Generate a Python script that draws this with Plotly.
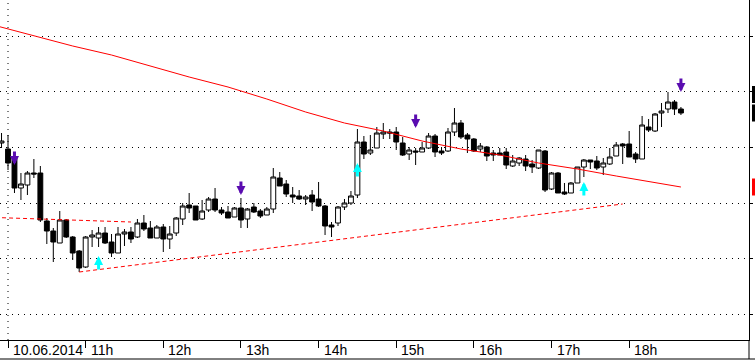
import plotly.graph_objects as go
import pandas as pd

# 5-minute candles, 10.06.2014 09:55 .. 18:40
times = list(pd.date_range("2014-06-10 09:55", periods=106, freq="5min"))

open_ = [1.35857, 1.35851, 1.35843, 1.35812, 1.35815, 1.35827, 1.35827, 1.35779, 1.35769, 1.35757,
         1.35780, 1.35763, 1.35749, 1.35733, 1.35763, 1.35762, 1.35767, 1.35758, 1.35747, 1.35766,
         1.35768, 1.35763, 1.35777, 1.35772, 1.35762, 1.35773, 1.35761, 1.35767, 1.35781, 1.35795,
         1.35794, 1.35781, 1.35790, 1.35801, 1.35790, 1.35788, 1.35783, 1.35792, 1.35781, 1.35793,
         1.35789, 1.35785, 1.35791, 1.35822, 1.35816, 1.35805, 1.35804, 1.35801, 1.35805, 1.35801,
         1.35794, 1.35775, 1.35777, 1.35793, 1.35797, 1.35805, 1.35858, 1.35847, 1.35852, 1.35866,
         1.35868, 1.35868, 1.35857, 1.35846, 1.35849, 1.35848, 1.35852, 1.35864, 1.35849, 1.35849,
         1.35868, 1.35877, 1.35865, 1.35861, 1.35851, 1.35853, 1.35847, 1.35847, 1.35848, 1.35834,
         1.35837, 1.35841, 1.35836, 1.35832, 1.35849, 1.35811, 1.35827, 1.35808, 1.35807, 1.35817,
         1.35833, 1.35840, 1.35839, 1.35833, 1.35836, 1.35844, 1.35856, 1.35856, 1.35846, 1.35841,
         1.35873, 1.35869, 1.35887, 1.35891, 1.35898, 1.35891]
high = [1.35867, 1.35865, 1.35848, 1.35827, 1.35829, 1.35841, 1.35834, 1.35782, 1.35772, 1.35789,
        1.35781, 1.35764, 1.35750, 1.35764, 1.35770, 1.35773, 1.35773, 1.35766, 1.35773, 1.35771,
        1.35773, 1.35781, 1.35785, 1.35779, 1.35775, 1.35776, 1.35774, 1.35783, 1.35797, 1.35807,
        1.35794, 1.35800, 1.35803, 1.35812, 1.35793, 1.35794, 1.35793, 1.35802, 1.35792, 1.35797,
        1.35791, 1.35793, 1.35832, 1.35828, 1.35820, 1.35813, 1.35810, 1.35805, 1.35810, 1.35818,
        1.35795, 1.35778, 1.35794, 1.35801, 1.35809, 1.35871, 1.35864, 1.35865, 1.35873, 1.35877,
        1.35871, 1.35873, 1.35863, 1.35853, 1.35852, 1.35858, 1.35867, 1.35866, 1.35853, 1.35872,
        1.35892, 1.35880, 1.35867, 1.35862, 1.35857, 1.35854, 1.35850, 1.35852, 1.35852, 1.35845,
        1.35843, 1.35845, 1.35840, 1.35850, 1.35850, 1.35828, 1.35828, 1.35817, 1.35818, 1.35833,
        1.35841, 1.35840, 1.35844, 1.35842, 1.35852, 1.35858, 1.35857, 1.35869, 1.35848, 1.35884,
        1.35881, 1.35887, 1.35897, 1.35908, 1.35900, 1.35893]
low = [1.35852, 1.35830, 1.35807, 1.35800, 1.35805, 1.35822, 1.35778, 1.35756, 1.35738, 1.35757,
       1.35762, 1.35740, 1.35728, 1.35732, 1.35753, 1.35753, 1.35756, 1.35743, 1.35747, 1.35754,
       1.35757, 1.35762, 1.35769, 1.35762, 1.35762, 1.35748, 1.35751, 1.35764, 1.35775, 1.35787,
       1.35780, 1.35780, 1.35788, 1.35788, 1.35785, 1.35782, 1.35783, 1.35772, 1.35772, 1.35787,
       1.35782, 1.35785, 1.35787, 1.35814, 1.35803, 1.35797, 1.35800, 1.35795, 1.35789, 1.35793,
       1.35765, 1.35763, 1.35774, 1.35790, 1.35795, 1.35802, 1.35841, 1.35845, 1.35852, 1.35861,
       1.35861, 1.35850, 1.35844, 1.35840, 1.35835, 1.35848, 1.35851, 1.35843, 1.35845, 1.35848,
       1.35864, 1.35861, 1.35847, 1.35848, 1.35848, 1.35839, 1.35839, 1.35845, 1.35831, 1.35833,
       1.35834, 1.35829, 1.35827, 1.35831, 1.35808, 1.35810, 1.35807, 1.35805, 1.35807, 1.35817,
       1.35823, 1.35831, 1.35830, 1.35825, 1.35835, 1.35844, 1.35836, 1.35843, 1.35837, 1.35841,
       1.35868, 1.35868, 1.35873, 1.35887, 1.35885, 1.35885]
close = [1.35859, 1.35837, 1.35812, 1.35816, 1.35827, 1.35826, 1.35780, 1.35769, 1.35758, 1.35780,
         1.35763, 1.35747, 1.35732, 1.35763, 1.35765, 1.35767, 1.35757, 1.35747, 1.35766, 1.35768,
         1.35761, 1.35777, 1.35771, 1.35762, 1.35773, 1.35761, 1.35766, 1.35782, 1.35794, 1.35792,
         1.35780, 1.35789, 1.35801, 1.35790, 1.35787, 1.35782, 1.35792, 1.35780, 1.35791, 1.35788,
         1.35784, 1.35791, 1.35823, 1.35814, 1.35806, 1.35803, 1.35801, 1.35803, 1.35798, 1.35794,
         1.35774, 1.35773, 1.35793, 1.35797, 1.35804, 1.35858, 1.35846, 1.35850, 1.35867, 1.35868,
         1.35867, 1.35858, 1.35845, 1.35850, 1.35848, 1.35852, 1.35864, 1.35848, 1.35847, 1.35868,
         1.35877, 1.35863, 1.35861, 1.35849, 1.35854, 1.35844, 1.35845, 1.35845, 1.35835, 1.35839,
         1.35842, 1.35834, 1.35833, 1.35850, 1.35810, 1.35827, 1.35807, 1.35806, 1.35817, 1.35833,
         1.35840, 1.35838, 1.35832, 1.35837, 1.35843, 1.35855, 1.35854, 1.35843, 1.35841, 1.35875,
         1.35870, 1.35886, 1.35889, 1.35898, 1.35891, 1.35887]

# moving average (solid red)
ma_times = ["2014-06-10 09:50", "2014-06-10 10:20", "2014-06-10 10:50", "2014-06-10 11:20",
            "2014-06-10 11:50", "2014-06-10 12:20", "2014-06-10 12:50", "2014-06-10 13:20",
            "2014-06-10 13:50", "2014-06-10 14:20", "2014-06-10 14:50", "2014-06-10 15:20",
            "2014-06-10 15:50", "2014-06-10 16:20", "2014-06-10 16:50", "2014-06-10 17:20",
            "2014-06-10 17:50", "2014-06-10 18:20", "2014-06-10 18:40"]
ma_values = [1.359745, 1.35964, 1.35954, 1.35945, 1.35934, 1.35923, 1.35913, 1.35901,
             1.35888, 1.35877, 1.35869, 1.35859, 1.35851, 1.35845, 1.35837, 1.35831,
             1.35824, 1.35817, 1.35813]

# dashed trend lines
resist_times = ["2014-06-10 09:50", "2014-06-10 11:35"]
resist_values = [1.357825, 1.35778]
support_times = ["2014-06-10 10:55", "2014-06-10 17:55"]
support_values = [1.35728, 1.35796]

# signal arrows (tip price)
arrow_times = ["2014-06-10 10:05", "2014-06-10 11:10", "2014-06-10 13:00", "2014-06-10 14:30",
               "2014-06-10 15:15", "2014-06-10 17:25", "2014-06-10 18:40"]
arrow_prices = [1.35835, 1.35744, 1.35805, 1.35837, 1.35872, 1.35818, 1.35908]
arrow_dirs = ["down", "up", "down", "up", "down", "up", "down"]

# axis
tick_times = ["2014-06-10 10:00", "2014-06-10 11:00", "2014-06-10 12:00", "2014-06-10 13:00",
              "2014-06-10 14:00", "2014-06-10 15:00", "2014-06-10 16:00", "2014-06-10 17:00",
              "2014-06-10 18:00"]
tick_labels = ["10.06.2014", "11h", "12h", "13h", "14h", "15h", "16h", "17h", "18h"]
grid_levels = [1.35964, 1.35909, 1.35853, 1.35797, 1.35742, 1.35686]

# right-side price tags (cut off)
tag_prices = [1.359055, 1.35887, 1.35813]
tag_colors = ["black", "black", "#ff0000"]

FONT = "Liberation Sans, Arial, sans-serif"
PURPLE = "#5A0CB0"
CYAN = "#00FFFF"

fig = go.Figure()

fig.add_trace(go.Scatter(x=resist_times, y=resist_values, mode="lines",
                         line=dict(color="#ff0000", width=1, dash="4px,3px"), hoverinfo="skip"))
fig.add_trace(go.Scatter(x=support_times, y=support_values, mode="lines",
                         line=dict(color="#ff0000", width=1, dash="4px,3px"), hoverinfo="skip"))
fig.add_trace(go.Scatter(x=ma_times, y=ma_values, mode="lines",
                         line=dict(color="#ff0000", width=1), hoverinfo="skip"))

fig.add_trace(go.Candlestick(
    x=times, open=open_, high=high, low=low, close=close,
    increasing=dict(line=dict(color="black", width=1), fillcolor="white"),
    decreasing=dict(line=dict(color="black", width=1), fillcolor="black"),
    whiskerwidth=0, hoverinfo="skip"))

annotations = []
for t, lab in zip(tick_times, tick_labels):
    annotations.append(dict(x=t, y=0, xref="x", yref="paper", text=lab, showarrow=False,
                            xanchor="left", yanchor="top", xshift=3,
                            font=dict(family=FONT, size=14, color="black")))
for t, p, d in zip(arrow_times, arrow_prices, arrow_dirs):
    annotations.append(dict(x=t, y=p, xref="x", yref="y", text="", showarrow=True,
                            arrowhead=2, arrowsize=0.6, arrowwidth=3,
                            arrowcolor=PURPLE if d == "down" else CYAN,
                            ax=0, ay=-15 if d == "down" else 15))

shapes = [
    dict(type="line", xref="x", yref="paper", x0=tick_times[0], x1=tick_times[0], y0=0, y1=1,
         line=dict(color="black", width=1, dash="1px,5px"), layer="below"),
    dict(type="line", xref="paper", yref="paper", x0=0, x1=1.02, y0=-19 / 340, y1=-19 / 340,
         line=dict(color="black", width=1)),
    dict(type="line", xref="paper", yref="paper", x0=1, x1=1, y0=-19 / 340, y1=0,
         line=dict(color="black", width=1)),
]
for p, c in zip(tag_prices, tag_colors):
    shapes.append(dict(type="rect", xref="paper", yref="y", x0=1 + 3 / 749, x1=1.02,
                       y0=p - 0.000085, y1=p + 0.000085, fillcolor=c, line=dict(width=0)))

fig.update_layout(
    width=755, height=362, autosize=False,
    margin=dict(l=0, r=6, t=0, b=22, pad=0),
    paper_bgcolor="white", plot_bgcolor="white",
    showlegend=False, boxgap=0.25, boxgroupgap=0,
    annotations=annotations, shapes=shapes,
    xaxis=dict(type="date", range=["2014-06-10 09:53:49", "2014-06-10 19:32:36"],
               showgrid=False, zeroline=False, showline=True, linecolor="black", linewidth=1,
               ticks="outside", ticklen=7, tickcolor="black", tickwidth=1,
               tickvals=tick_times, showticklabels=False,
               rangeslider=dict(visible=False), fixedrange=True),
    yaxis=dict(side="right", range=[1.3566, 1.36], tickvals=grid_levels, showticklabels=False,
               ticks="outside", ticklen=3, tickcolor="black",
               showgrid=True, gridcolor="black", gridwidth=1, griddash="1px,5px",
               showline=True, linecolor="black", linewidth=1, zeroline=False, fixedrange=True),
)

fig.write_html("out.html", config={"displayModeBar": False},
               post_script="document.body.style.margin='0';document.body.style.padding='0';"
                           "document.body.style.overflow='hidden';")
